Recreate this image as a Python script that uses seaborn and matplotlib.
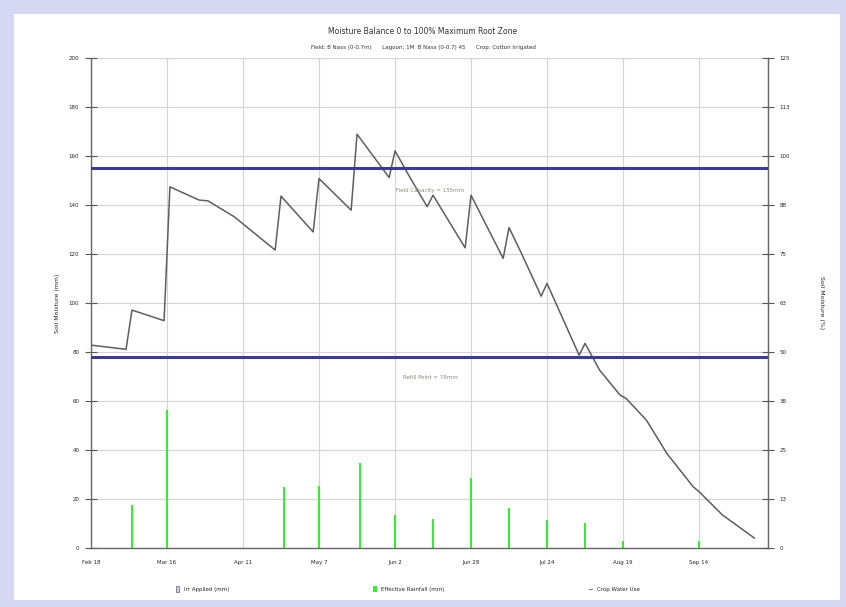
import pandas as pd
import numpy as np
import matplotlib
matplotlib.use("Agg")
import matplotlib.pyplot as plt
import seaborn as sns
from matplotlib.patches import Rectangle, Patch
from matplotlib.lines import Line2D

start = pd.Timestamp("2009-02-18")

# soil moisture trace (days after start, mm)
sm_days = [0, 12, 14, 25, 27, 37, 40, 49, 63, 65, 76, 78, 89, 91, 102, 104,
           109, 115, 117, 128, 130, 141, 143, 147, 154, 156, 167, 169, 174,
           181, 183, 190, 197, 206, 208, 216, 227]
sm_mm = [82.8, 81.1, 97.1, 92.8, 147.4, 142.0, 141.7, 135.2, 121.6, 143.6,
         129.0, 150.8, 137.9, 168.9, 151.2, 162.1, 151.5, 139.3, 144.0, 122.5,
         144.0, 118.2, 130.8, 120.9, 102.8, 108.0, 78.7, 83.5, 72.6, 62.4,
         61.1, 52.2, 38.6, 25.0, 23.0, 13.5, 4.0]

# effective rainfall events
rain_days = [14, 26, 66, 78, 92, 104, 117, 130, 143, 156, 169, 182, 208]
rain_mm = [17.6, 56.3, 25.0, 25.3, 34.6, 13.5, 11.7, 28.4, 16.2, 11.4, 10.1, 3.0, 3.0]

full_point = 155
refill_point = 78

tick_labels = ["Feb 18", "Mar 16", "Apr 11", "May 7", "Jun 2", "Jun 28",
               "Jul 24", "Aug 19", "Sep 14"]
left_ticks = list(range(0, 201, 20))
right_labels = ["0", "13", "25", "38", "50", "63", "75", "88", "100", "113", "125"]

df = pd.DataFrame({"date": start + pd.to_timedelta(sm_days, unit="D"), "mm": sm_mm})
rain = pd.DataFrame({"date": start + pd.to_timedelta(rain_days, unit="D"), "mm": rain_mm})
tick_dates = [start + pd.Timedelta(days=26 * i) for i in range(len(tick_labels))]

sns.set_style("white")
plt.rcParams["font.family"] = ["DejaVu Sans"]

fig = plt.figure(figsize=(8.46, 6.07), dpi=100)
fig.patch.set_facecolor("#d6d8f3")
fig.add_artist(Rectangle((14 / 846, 7 / 607), 826 / 846, 586 / 607,
                         transform=fig.transFigure, facecolor="white",
                         edgecolor="none", zorder=0))

ax = fig.add_axes([91 / 846, 1 - 548 / 607, 677 / 846, 490 / 607])
ax.set_facecolor("white")

for d in tick_dates:
    ax.axvline(d, color="#d4d4d4", lw=0.8, zorder=0)
for v in left_ticks:
    ax.axhline(v, color="#d4d4d4", lw=0.8, zorder=0)

ax.bar(rain["date"], rain["mm"], width=0.85, color="#33ee33",
       edgecolor="none", linewidth=0, zorder=2)
sns.lineplot(data=df, x="date", y="mm", ax=ax, color="#5e5e5e", lw=1.1, zorder=3)

ax.axhline(full_point, color="#3c3c8e", lw=2.2, zorder=4)
ax.axhline(refill_point, color="#3c3c8e", lw=2.2, zorder=4)
ax.text(start + pd.Timedelta(days=116), 146, "Field Capacity = 155mm", fontsize=4,
        color="#8a8a70", ha="center", va="center")
ax.text(start + pd.Timedelta(days=116), 69.5, "Refill Point = 78mm", fontsize=4,
        color="#8a8a70", ha="center", va="center")

ax.set_xlim(start, start + pd.Timedelta(days=231.6))
ax.set_ylim(0, 200)
ax.set_xticks(tick_dates)
ax.set_xticklabels(tick_labels, fontsize=4)
ax.set_yticks(left_ticks)
ax.set_yticklabels([str(v) for v in left_ticks], fontsize=4)
ax.tick_params(direction="inout", length=9, width=0.8, color="#555555", pad=4)
ax.set_xlabel("")
ax.set_ylabel("Soil Moisture (mm)", fontsize=4.5, labelpad=6)
for s in ["left", "bottom", "right"]:
    ax.spines[s].set_color("#666666")
    ax.spines[s].set_linewidth(1.0)
ax.spines["top"].set_visible(False)

ax2 = ax.twinx()
ax2.set_ylim(0, 200)
ax2.set_yticks(left_ticks)
ax2.set_yticklabels(right_labels, fontsize=4)
ax2.tick_params(direction="inout", length=9, width=0.8, color="#555555", pad=4)
ax2.set_ylabel("Soil Moisture (%)", fontsize=4.5, rotation=270, labelpad=24)
for s in ["left", "bottom", "top"]:
    ax2.spines[s].set_visible(False)
ax2.spines["right"].set_color("#666666")

fig.text(0.5, 1 - 32 / 607, "Moisture Balance 0 to 100% Maximum Root Zone",
         fontsize=5.5, ha="center", va="center", color="#333333")
fig.text(0.5, 1 - 47 / 607,
         "Field: B Nass (0-0.7m)      Lagoon: 1M  B Nass (0-0.7) 45      Crop: Cotton Irrigated",
         fontsize=4, ha="center", va="center", color="#333333")

handles = [Patch(facecolor="#c8d0f0", edgecolor="#777777", lw=0.6),
           Patch(facecolor="#33ee33", edgecolor="none"),
           Line2D([0], [0], color="#777777", lw=0.8)]
labels = ["Irr Applied (mm)", "Effective Rainfall (mm)", "Crop Water Use"]
fig.legend(handles, labels, ncol=3, loc="center",
           bbox_to_anchor=(0.482, 1 - 589 / 607), frameon=False, fontsize=4,
           handlelength=0.6, handleheight=1.2, columnspacing=26)

fig.savefig("out.png", dpi=100, facecolor=fig.get_facecolor())
